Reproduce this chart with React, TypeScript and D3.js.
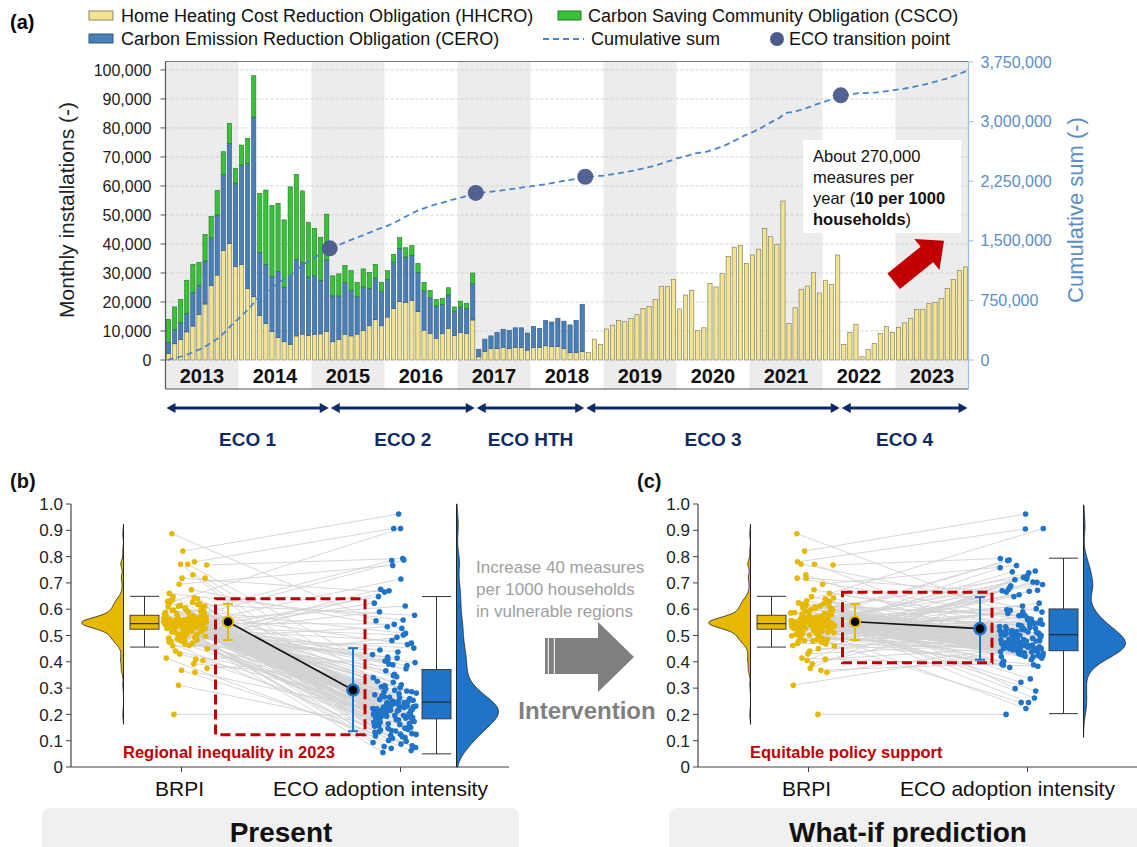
import React, { useEffect, useRef } from 'react'
import * as d3 from 'd3'

const FONT = 'Liberation Sans, Arial, Helvetica, sans-serif'

// ---------- panel (a): monthly installations (thousands), Jan 2013 - Dec 2023
const years = [2013, 2014, 2015, 2016, 2017, 2018, 2019, 2020, 2021, 2022, 2023]
const hhcro = [
  2.3, 5.6, 7.1, 9.7, 11.7, 15.7, 19.3, 25.6, 29.3, 37.8, 40.1, 32.3,
  32.9, 24.7, 21.8, 15.3, 12.6, 9.8, 7.7, 6.3, 5.4, 8.3, 8.9, 8.5,
  8.9, 9.0, 9.8, 6.3, 7.1, 8.9, 8.3, 8.9, 10.2, 11.8, 13.9, 11.8,
  14.8, 17.8, 20.1, 19.9, 20.6, 16.7, 10.3, 9.2, 7.5, 9.1, 10.9, 8.4,
  9.5, 9.2, 13.8, 1.1, 2.9, 3.9, 3.9, 4.4, 3.9, 4.3, 4.3, 3.4,
  4.3, 4.3, 4.9, 4.6, 4.6, 3.9, 2.5, 2.5, 2.9, 2.6, 7.2, 5.4,
  10.7, 12.0, 13.6, 13.2, 14.3, 15.6, 17.8, 18.4, 20.9, 25.4, 25.4, 27.8,
  17.6, 22.4, 24.0, 10.1, 11.1, 26.4, 25.2, 29.8, 35.7, 38.9, 39.5, 33.3,
  36.2, 38.2, 45.4, 42.5, 39.9, 54.8, 12.6, 18.0, 24.4, 25.5, 30.2, 23.1,
  27.5, 26.1, 36.2, 5.4, 9.5, 12.3, 1.1, 3.6, 5.7, 9.2, 11.5, 9.5,
  11.3, 12.8, 14.4, 17.5, 17.5, 19.5, 19.9, 21.3, 24.7, 27.7, 30.9, 32.1,
]
// CERO: Jan 2013 - Sep 2018
const cero = [
  3.8, 5.0, 5.7, 6.4, 11.6, 10.0, 14.8, 16.5, 20.7, 26.2, 34.6, 28.7,
  34.3, 43.1, 61.9, 21.8, 20.4, 19.1, 22.9, 18.8, 23.8, 26.4, 24.8, 20.1,
  20.2, 18.5, 24.7, 15.8, 15.0, 17.8, 15.7, 12.9, 15.0, 12.9, 14.3, 11.8,
  13.0, 15.9, 18.4, 15.6, 15.5, 13.5, 13.5, 12.3, 11.1, 10.1, 11.5, 8.3,
  8.8, 8.6, 12.6, 2.6, 4.3, 4.4, 5.6, 6.2, 6.3, 6.8, 6.8, 5.9,
  7.2, 6.6, 8.7, 8.5, 9.8, 9.5, 9.6, 11.2, 16.3,
]
// CSCO: Jan 2013 - Mar 2017
const csco = [
  7.9, 7.7, 8.1, 11.4, 9.7, 8.0, 9.2, 7.4, 8.5, 7.8, 6.9, 5.1,
  6.9, 8.6, 14.3, 20.3, 25.6, 24.4, 23.4, 23.2, 30.5, 29.3, 24.6, 18.9,
  16.3, 14.8, 15.8, 6.9, 7.6, 5.9, 6.8, 5.0, 6.2, 5.5, 4.8, 3.2,
  3.0, 2.7, 3.7, 3.2, 3.4, 3.1, 3.0, 2.5, 2.3, 2.1, 2.5, 1.6,
  2.0, 1.7, 3.6,
]
const phases = ['ECO 1', 'ECO 2', 'ECO HTH', 'ECO 3', 'ECO 4']
const phaseBounds = [0, 27, 51, 69, 111, 132]
const leftTicks = [0, 10, 20, 30, 40, 50, 60, 70, 80, 90, 100]
const rightTicks = [0, 750000, 1500000, 2250000, 3000000, 3750000]

// ---------- panels (b)/(c): regions
const groups = ['BRPI', 'ECO adoption intensity']
const brpi = [
  0.552, 0.538, 0.611, 0.497, 0.563, 0.887, 0.541, 0.529, 0.588, 0.471,
  0.546, 0.571, 0.502, 0.624, 0.533, 0.556, 0.375, 0.548, 0.597, 0.515,
  0.561, 0.527, 0.643, 0.488, 0.549, 0.771, 0.536, 0.566, 0.479, 0.582,
  0.544, 0.558, 0.519, 0.605, 0.531, 0.410, 0.553, 0.569, 0.462, 0.636,
  0.539, 0.821, 0.547, 0.574, 0.509, 0.592, 0.526, 0.560, 0.484, 0.615,
  0.551, 0.535, 0.200, 0.568, 0.543, 0.629, 0.493, 0.557, 0.718, 0.522,
  0.545, 0.564, 0.506, 0.579, 0.532, 0.441, 0.550, 0.601, 0.475, 0.540,
  0.559, 0.768, 0.528, 0.648, 0.542, 0.511, 0.572, 0.392, 0.554, 0.586,
  0.537, 0.548, 0.618, 0.499, 0.565, 0.674, 0.530, 0.555, 0.468, 0.609,
  0.543, 0.311, 0.562, 0.523, 0.595, 0.549, 0.485, 0.570, 0.731, 0.534,
  0.556, 0.541, 0.632, 0.504, 0.547, 0.450, 0.567, 0.525, 0.590, 0.495,
  0.552, 0.780, 0.538, 0.612, 0.561, 0.477, 0.546, 0.368, 0.573, 0.517,
  0.544, 0.558, 0.599, 0.490, 0.533, 0.695, 0.551, 0.566, 0.460, 0.621,
  0.540, 0.414, 0.557, 0.583, 0.529, 0.508, 0.548, 0.640, 0.771, 0.563,
  0.550, 0.536, 0.603, 0.481, 0.545, 0.360, 0.569, 0.527, 0.587, 0.513,
  0.553, 0.718, 0.542, 0.626, 0.558, 0.405, 0.547, 0.660, 0.500, 0.430,
]
const ecoPresent = [
  0.212, 0.143, 0.392, 0.452, 0.196, 0.556, 0.087, 0.271, 0.232, 0.164,
  0.227, 0.352, 0.118, 0.907, 0.205, 0.289, 0.410, 0.176, 0.243, 0.132,
  0.301, 0.191, 0.098, 0.533, 0.219, 0.347, 0.155, 0.262, 0.676, 0.186,
  0.238, 0.127, 0.389, 0.208, 0.278, 0.171, 0.612, 0.224, 0.471, 0.109,
  0.199, 0.962, 0.257, 0.148, 0.366, 0.214, 0.481, 0.093, 0.245, 0.183,
  0.226, 0.297, 0.200, 0.139, 0.428, 0.248, 0.159, 0.787, 0.309, 0.202,
  0.233, 0.124, 0.414, 0.190, 0.502, 0.267, 0.166, 0.216, 0.074, 0.343,
  0.209, 0.793, 0.284, 0.152, 0.239, 0.397, 0.181, 0.326, 0.115, 0.228,
  0.194, 0.265, 0.577, 0.137, 0.221, 0.527, 0.055, 0.249, 0.670, 0.173,
  0.241, 0.158, 0.313, 0.204, 0.466, 0.101, 0.229, 0.292, 0.187, 0.715,
  0.217, 0.386, 0.146, 0.254, 0.543, 0.197, 0.125, 0.305, 0.236, 0.418,
  0.188, 0.907, 0.275, 0.162, 0.211, 0.374, 0.245, 0.081, 0.322, 0.623,
  0.230, 0.141, 0.508, 0.193, 0.286, 0.766, 0.170, 0.218, 0.445, 0.112,
  0.206, 0.063, 0.251, 0.340, 0.179, 0.590, 0.235, 0.298, 0.150, 0.785,
  0.222, 0.437, 0.134, 0.245, 0.403, 0.189, 0.071, 0.281, 0.213, 0.648,
  0.196, 0.665, 0.260, 0.120, 0.232, 0.493, 0.168, 0.559, 0.078, 0.203,
]
const ecoWhatIf = [
  0.478, 0.438, 0.575, 0.702, 0.462, 0.556, 0.402, 0.523, 0.497, 0.451,
  0.489, 0.598, 0.421, 0.907, 0.471, 0.289, 0.684, 0.455, 0.512, 0.436,
  0.548, 0.468, 0.408, 0.533, 0.485, 0.589, 0.447, 0.262, 0.676, 0.459,
  0.503, 0.430, 0.672, 0.474, 0.531, 0.452, 0.612, 0.494, 0.712, 0.418,
  0.466, 0.962, 0.519, 0.441, 0.602, 0.482, 0.738, 0.396, 0.245, 0.457,
  0.491, 0.552, 0.200, 0.434, 0.694, 0.515, 0.446, 0.787, 0.566, 0.470,
  0.500, 0.425, 0.742, 0.461, 0.502, 0.528, 0.450, 0.483, 0.389, 0.584,
  0.476, 0.793, 0.540, 0.443, 0.507, 0.668, 0.453, 0.577, 0.420, 0.493,
  0.463, 0.525, 0.577, 0.432, 0.487, 0.527, 0.378, 0.514, 0.670, 0.452,
  0.509, 0.445, 0.563, 0.472, 0.721, 0.414, 0.494, 0.546, 0.460, 0.715,
  0.484, 0.655, 0.440, 0.517, 0.543, 0.465, 0.427, 0.559, 0.502, 0.703,
  0.458, 0.905, 0.534, 0.449, 0.479, 0.596, 0.245, 0.394, 0.322, 0.623,
  0.496, 0.437, 0.508, 0.464, 0.543, 0.766, 0.451, 0.486, 0.726, 0.419,
  0.473, 0.383, 0.518, 0.335, 0.454, 0.590, 0.501, 0.298, 0.444, 0.785,
  0.222, 0.758, 0.433, 0.511, 0.689, 0.460, 0.387, 0.537, 0.480, 0.648,
  0.463, 0.665, 0.521, 0.423, 0.498, 0.745, 0.450, 0.559, 0.391, 0.471,
]
// box: [lower whisker, q1, median, q3, upper whisker]; mean: [low, mean, high]
const boxBrpi = [0.456, 0.524, 0.545, 0.577, 0.649]
const boxPresent = [0.05, 0.183, 0.247, 0.371, 0.648]
const boxWhatIf = [0.203, 0.442, 0.503, 0.601, 0.794]
const meanBrpi = [0.483, 0.552, 0.62]
const meanPresent = [0.136, 0.293, 0.452]
const meanWhatIf = [0.408, 0.526, 0.646]
const rainTicks = [0, 0.1, 0.2, 0.3, 0.4, 0.5, 0.6, 0.7, 0.8, 0.9, 1.0]

const YEL = '#f2e58e'
const BLU = '#4a80b6'
const GRN = '#38c238'
const GOLD = '#e6b800'
const DOT_BLUE = '#1f74c8'
const NAVY = '#0f2b66'
const RED = '#c00000'
const AXIS_BLUE = '#5b8ec6'

const frac = (v: number) => v - Math.floor(v)

function drawTrend(svg: any) {
  const L = 165.5, R = 968.5, T = 61.5, B = 360, BB = 389
  const g = svg.append('g')
  const table = hhcro.map((h, i) => ({ i, hhcro: h, cero: cero[i] ?? 0, csco: csco[i] ?? 0 }))
  const x = d3.scaleBand<number>().domain(d3.range(table.length)).range([L, R]).paddingInner(0.3).paddingOuter(0.15)
  const xm = d3.scaleLinear().domain([0, table.length]).range([L, R])
  const y = d3.scaleLinear().domain([0, 102.9]).range([B, T])
  const yR = d3.scaleLinear().domain([0, 3750000]).range([B, 62])

  // year bands
  years.forEach((yr, k) => {
    if (k % 2 === 0) {
      g.append('rect').attr('x', xm(k * 12)).attr('y', T).attr('width', xm(12) - xm(0)).attr('height', BB - T).attr('fill', '#ececec')
    }
    g.append('text').attr('x', xm(k * 12 + 6)).attr('y', 383).attr('text-anchor', 'middle')
      .attr('font-size', 20).attr('font-weight', 'bold').attr('fill', '#111').text(yr)
  })

  // grid
  g.selectAll('line.grid').data(leftTicks.filter(t => t > 0)).join('line')
    .attr('x1', L).attr('x2', R).attr('y1', d => y(d)).attr('y2', d => y(d))
    .attr('stroke', '#c9c9c9').attr('stroke-width', 0.8).attr('stroke-dasharray', '3,2')

  // stacked bars
  const keys = ['hhcro', 'cero', 'csco']
  const fills = [YEL, BLU, GRN]
  const strokes = ['#77735a', '#2c5480', '#237a23']
  const series = d3.stack<any>().keys(keys)(table)
  series.forEach((layer, li) => {
    g.append('g').selectAll('rect').data(layer.filter(d => d[1] - d[0] > 0)).join('rect')
      .attr('x', d => x(d.data.i)!).attr('width', x.bandwidth())
      .attr('y', d => y(d[1])).attr('height', d => y(d[0]) - y(d[1]))
      .attr('fill', fills[li]).attr('stroke', strokes[li]).attr('stroke-width', 0.6)
  })

  // cumulative sum
  const cum = d3.cumsum(table, d => (d.hhcro + d.cero + d.csco) * 1000)
  const pts: [number, number][] = [[xm(0) + 2, 0], ...Array.from(cum, (c, i) => [xm(i + 1), c] as [number, number])]
  g.append('path').attr('d', d3.line<[number, number]>().x(d => d[0]).y(d => yR(d[1])).curve(d3.curveMonotoneX)(pts))
    .attr('fill', 'none').attr('stroke', '#4a86c8').attr('stroke-width', 1.8).attr('stroke-dasharray', '6,4')
  g.selectAll('circle.tp').data(phaseBounds.slice(1, -1)).join('circle')
    .attr('cx', b => xm(b)).attr('cy', b => yR(cum[b - 1])).attr('r', 8)
    .attr('fill', '#4a5b8e').attr('opacity', 0.95)

  // frame + axes
  g.append('line').attr('x1', L).attr('x2', R).attr('y1', T).attr('y2', T).attr('stroke', '#777')
  g.append('line').attr('x1', L).attr('x2', R).attr('y1', BB).attr('y2', BB).attr('stroke', '#555').attr('stroke-width', 1.2)
  g.append('line').attr('x1', L).attr('x2', L).attr('y1', T).attr('y2', BB).attr('stroke', '#555').attr('stroke-width', 1.2)
  g.append('line').attr('x1', R).attr('x2', R).attr('y1', T).attr('y2', BB).attr('stroke', '#9dbfe3').attr('stroke-width', 1.2)
  leftTicks.forEach(t => {
    g.append('line').attr('x1', L - 5).attr('x2', L).attr('y1', y(t)).attr('y2', y(t)).attr('stroke', '#555')
    g.append('text').attr('x', L - 14).attr('y', y(t)).attr('dy', '0.35em').attr('text-anchor', 'end')
      .attr('font-size', 16).attr('fill', '#222').text(d3.format(',')(t * 1000))
  })
  rightTicks.forEach(t => {
    g.append('line').attr('x1', R).attr('x2', R + 5).attr('y1', yR(t)).attr('y2', yR(t)).attr('stroke', '#9dbfe3')
    g.append('text').attr('x', R + 12).attr('y', yR(t)).attr('dy', '0.35em')
      .attr('font-size', 16).attr('fill', AXIS_BLUE).text(d3.format(',')(t))
  })
  g.append('text').attr('transform', 'translate(74,210) rotate(-90)').attr('text-anchor', 'middle')
    .attr('font-size', 21).attr('fill', '#222').text('Monthly installations (-)')
  g.append('text').attr('transform', 'translate(1083,210) rotate(-90)').attr('text-anchor', 'middle')
    .attr('font-size', 22).attr('fill', AXIS_BLUE).text('Cumulative sum (-)')

  // annotation
  g.append('rect').attr('x', 803).attr('y', 140).attr('width', 158).attr('height', 93).attr('fill', '#fff')
  const ann = g.append('text').attr('font-size', 16.5).attr('fill', '#111')
  ann.append('tspan').attr('x', 813).attr('y', 162).text('About 270,000')
  ann.append('tspan').attr('x', 813).attr('y', 183).text('measures per')
  ann.append('tspan').attr('x', 813).attr('y', 204).text('year (')
  ann.append('tspan').attr('font-weight', 'bold').text('10 per 1000')
  ann.append('tspan').attr('x', 813).attr('y', 225).attr('font-weight', 'bold').text('households')
  ann.append('tspan').text(')')
  // red arrow
  const tail = [893.7, 281.3], tip = [944, 240.7]
  const dx = tip[0] - tail[0], dy = tip[1] - tail[1], len = Math.hypot(dx, dy)
  const ux = dx / len, uy = dy / len, nx = -uy, ny = ux
  const hb = len - 22
  const P = (a: number, n: number) => [tail[0] + ux * a + nx * n, tail[1] + uy * a + ny * n].join(',')
  g.append('polygon').attr('fill', RED)
    .attr('points', [P(0, -10), P(hb, -10), P(hb, -20), P(len, 0), P(hb, 20), P(hb, 10), P(0, 10)].join(' '))

  // ECO phase arrows
  phases.forEach((p, k) => {
    const x1 = xm(phaseBounds[k]) + 1, x2 = xm(phaseBounds[k + 1]) - 1, yy = 408
    g.append('line').attr('x1', x1 + 6).attr('x2', x2 - 6).attr('y1', yy).attr('y2', yy).attr('stroke', NAVY).attr('stroke-width', 3)
    g.append('polygon').attr('fill', NAVY).attr('points', `${x1},${yy} ${x1 + 9},${yy - 5} ${x1 + 9},${yy + 5}`)
    g.append('polygon').attr('fill', NAVY).attr('points', `${x2},${yy} ${x2 - 9},${yy - 5} ${x2 - 9},${yy + 5}`)
    g.append('text').attr('x', (x1 + x2) / 2).attr('y', 446).attr('text-anchor', 'middle')
      .attr('font-size', 19).attr('font-weight', 'bold').attr('fill', NAVY).text(p)
  })

  // legend
  const lg = g.append('g').attr('font-size', 18).attr('fill', '#111')
  lg.append('rect').attr('x', 89).attr('y', 11).attr('width', 24).attr('height', 9).attr('fill', YEL).attr('stroke', '#8a866a')
  lg.append('text').attr('x', 121).attr('y', 22).text('Home Heating Cost Reduction Obligation (HHCRO)')
  lg.append('rect').attr('x', 89).attr('y', 34).attr('width', 24).attr('height', 9).attr('fill', BLU).attr('stroke', '#2c5480')
  lg.append('text').attr('x', 121).attr('y', 45).text('Carbon Emission Reduction Obligation (CERO)')
  lg.append('rect').attr('x', 558).attr('y', 11).attr('width', 23).attr('height', 9).attr('fill', GRN).attr('stroke', '#237a23')
  lg.append('text').attr('x', 588).attr('y', 22).text('Carbon Saving Community Obligation (CSCO)')
  lg.append('line').attr('x1', 543).attr('x2', 584).attr('y1', 39).attr('y2', 39).attr('stroke', '#4a86c8').attr('stroke-width', 1.8).attr('stroke-dasharray', '6,4')
  lg.append('text').attr('x', 591).attr('y', 45).text('Cumulative sum')
  lg.append('circle').attr('cx', 777).attr('cy', 39).attr('r', 7).attr('fill', '#4a5b8e')
  lg.append('text').attr('x', 789).attr('y', 45).text('ECO transition point')
  g.append('text').attr('x', 10).attr('y', 29).attr('font-size', 20).attr('font-weight', 'bold').text('(a)')
}

function kde(values: number[], bw: number) {
  const lo = Math.max(0, d3.min(values)! - 2.5 * bw)
  const hi = Math.min(1, d3.max(values)! + 2.5 * bw)
  return d3.range(lo, hi + 1e-9, 0.004).map(v => [v, d3.mean(values, d => Math.exp(-0.5 * ((v - d) / bw) ** 2))!] as [number, number])
}

function drawRain(svg: any, cfg: any) {
  const { x0, xEnd, eco, ecoBox, ecoMean, box, caption, title, label, jit, bwEco } = cfg
  const g = svg.append('g')
  const y = d3.scaleLinear().domain([0, 1]).range([767, 504])
  const xc = d3.scalePoint<string>().domain(groups).range([x0 + 110.5, x0 + 329.5])
  const xB = xc(groups[0])!, xE = xc(groups[1])!
  const xy = brpi.map((_, i) => xB + 4 + (frac(i * jit[0] + jit[1]) - 0.5) * 44)
  const xe = eco.map((_: number, i: number) => xE - 6 + (frac(i * jit[2] + jit[3]) - 0.5) * 44)

  // axes
  g.append('line').attr('x1', x0).attr('x2', x0).attr('y1', y(1)).attr('y2', y(0)).attr('stroke', '#444').attr('stroke-width', 1.2)
  g.append('line').attr('x1', x0).attr('x2', xEnd).attr('y1', y(0)).attr('y2', y(0)).attr('stroke', '#444').attr('stroke-width', 1.2)
  rainTicks.forEach(t => {
    g.append('line').attr('x1', x0 - 5).attr('x2', x0).attr('y1', y(t)).attr('y2', y(t)).attr('stroke', '#444')
    g.append('text').attr('x', x0 - 8).attr('y', y(t)).attr('dy', '0.36em').attr('text-anchor', 'end')
      .attr('font-size', 17).attr('fill', '#222').text(t === 0 ? '0' : t.toFixed(1))
  })
  groups.forEach((gr, k) => {
    const xx = xc(gr)!
    g.append('line').attr('x1', xx).attr('x2', xx).attr('y1', y(0)).attr('y2', y(0) + 5).attr('stroke', '#444')
    g.append('text').attr('x', k === 0 ? xx - 2 : xx - 20).attr('y', 796).attr('text-anchor', 'middle')
      .attr('font-size', 21).attr('fill', '#111').text(gr)
  })

  // paired lines
  g.append('g').selectAll('line').data(brpi).join('line')
    .attr('x1', (_, i) => xy[i]).attr('y1', d => y(d)).attr('x2', (_, i) => xe[i]).attr('y2', (_, i) => y(eco[i]))
    .attr('stroke', '#d3d3d3').attr('stroke-width', 0.9)
  g.append('g').selectAll('circle').data(brpi).join('circle')
    .attr('cx', (_, i) => xy[i]).attr('cy', d => y(d)).attr('r', 2.8).attr('fill', GOLD)
  g.append('g').selectAll('circle').data(eco).join('circle')
    .attr('cx', (_: number, i: number) => xe[i]).attr('cy', (d: number) => y(d)).attr('r', 2.8).attr('fill', DOT_BLUE)

  // half violins
  const drawViolin = (vals: number[], bw: number, base: number, dir: number, fill: string) => {
    const dens = kde(vals, bw)
    const w = d3.scaleLinear().domain([0, d3.max(dens, d => d[1])!]).range([0, 42])
    const area = d3.area<[number, number]>().y(d => y(d[0])).x0(base).x1(d => base + dir * w(d[1])).curve(d3.curveBasis)
    g.append('path').attr('d', area(dens)).attr('fill', fill).attr('stroke', '#222').attr('stroke-width', 0.8)
    g.append('line').attr('x1', base).attr('x2', base).attr('y1', y(dens[0][0])).attr('y2', y(dens[dens.length - 1][0]))
      .attr('stroke', '#222').attr('stroke-width', 1)
  }
  drawViolin(brpi, 0.015, xB - 58, -1, GOLD)
  drawViolin(eco, bwEco, xE + 56, 1, DOT_BLUE)

  // boxes
  const drawBox = (s: number[], cx: number, fill: string) => {
    const hw = 14.5
    g.append('line').attr('x1', cx).attr('x2', cx).attr('y1', y(s[0])).attr('y2', y(s[4])).attr('stroke', '#333')
    ;[s[0], s[4]].forEach(v => g.append('line').attr('x1', cx - hw).attr('x2', cx + hw).attr('y1', y(v)).attr('y2', y(v)).attr('stroke', '#333'))
    g.append('rect').attr('x', cx - hw).attr('width', hw * 2).attr('y', y(s[3])).attr('height', y(s[1]) - y(s[3]))
      .attr('fill', fill).attr('stroke', '#333').attr('stroke-width', 0.9)
    g.append('line').attr('x1', cx - hw).attr('x2', cx + hw).attr('y1', y(s[2])).attr('y2', y(s[2])).attr('stroke', '#222').attr('stroke-width', 1.1)
  }
  drawBox(boxBrpi, xB - 37, GOLD)
  drawBox(ecoBox, xE + 36, DOT_BLUE)

  // red frame
  g.append('rect').attr('x', xB + 34).attr('width', (xE - 35.5) - (xB + 34)).attr('y', y(box[1])).attr('height', y(box[0]) - y(box[1]))
    .attr('fill', 'none').attr('stroke', RED).attr('stroke-width', 3).attr('stroke-dasharray', '10,5')

  // means with error bars
  const mx1 = xB + 46.5, mx2 = xE - 47.5
  g.append('line').attr('x1', mx1).attr('x2', mx2).attr('y1', y(meanBrpi[1])).attr('y2', y(ecoMean[1])).attr('stroke', '#111').attr('stroke-width', 1.6)
  const drawMean = (m: number[], cx: number, color: string, r: number) => {
    g.append('line').attr('x1', cx).attr('x2', cx).attr('y1', y(m[0])).attr('y2', y(m[2])).attr('stroke', color).attr('stroke-width', 2)
    ;[m[0], m[2]].forEach(v => g.append('line').attr('x1', cx - 5).attr('x2', cx + 5).attr('y1', y(v)).attr('y2', y(v)).attr('stroke', color).attr('stroke-width', 2))
    g.append('circle').attr('cx', cx).attr('cy', y(m[1])).attr('r', r).attr('fill', color)
    g.append('circle').attr('cx', cx).attr('cy', y(m[1])).attr('r', 4.3).attr('fill', '#000')
  }
  drawMean(meanBrpi, mx1, GOLD, 6.2)
  drawMean(ecoMean, mx2, DOT_BLUE, 6.8)

  g.append('text').attr('x', x0 + 52).attr('y', 758).attr('font-size', 16.5).attr('font-weight', 'bold').attr('fill', RED).text(caption)
  g.append('rect').attr('x', x0 - 29).attr('y', 808).attr('width', cfg.bandW).attr('height', 50).attr('rx', 8).attr('fill', '#f0f0f0')
  g.append('text').attr('x', x0 + 210).attr('y', 842).attr('text-anchor', 'middle').attr('font-size', 28).attr('font-weight', 'bold').attr('fill', '#111').text(title)
  g.append('text').attr('x', x0 - 61).attr('y', 488).attr('font-size', 20).attr('font-weight', 'bold').attr('fill', '#111').text(label)
}

function drawMiddle(svg: any) {
  const g = svg.append('g')
  const t = g.append('text').attr('font-size', 17).attr('fill', '#a0a0a0')
  ;['Increase 40 measures', 'per 1000 households', 'in vulnerable regions'].forEach((s, k) =>
    t.append('tspan').attr('x', 476).attr('y', 573 + k * 22).text(s))
  g.append('polygon').attr('fill', '#7f7f7f')
    .attr('points', '545,638 598,638 598,622 634,657 598,692 598,674 545,674')
  ;[548.3, 554.3].forEach(xx => g.append('line').attr('x1', xx).attr('x2', xx).attr('y1', 638).attr('y2', 674).attr('stroke', '#fff').attr('stroke-width', 1))
  g.append('text').attr('x', 587).attr('y', 719).attr('text-anchor', 'middle').attr('font-size', 24).attr('font-weight', 'bold').attr('fill', '#808080').text('Intervention')
}

export default function App() {
  const ref = useRef<SVGSVGElement>(null)
  useEffect(() => {
    if (!ref.current) return
    const svg = d3.select(ref.current)
    svg.selectAll('*').remove()
    drawTrend(svg)
    drawRain(svg, {
      x0: 71, xEnd: 509, eco: ecoPresent, ecoBox: boxPresent, ecoMean: meanPresent, box: [0.123, 0.64],
      caption: 'Regional inequality in 2023', title: 'Present', label: '(b)', jit: [0.618034, 0.1, 0.569840, 0.23], bwEco: 0.04, bandW: 477,
    })
    drawRain(svg, {
      x0: 698, xEnd: 1137, eco: ecoWhatIf, ecoBox: boxWhatIf, ecoMean: meanWhatIf, box: [0.396, 0.664],
      caption: 'Equitable policy support', title: 'What-if prediction', label: '(c)', jit: [0.754878, 0.37, 0.414214, 0.61], bwEco: 0.035, bandW: 480,
    })
    drawMiddle(svg)
  }, [])
  return (
    <svg ref={ref} width={1137} height={847}
      style={{ position: 'absolute', left: 0, top: 0, background: '#fff', fontFamily: FONT }} />
  )
}
